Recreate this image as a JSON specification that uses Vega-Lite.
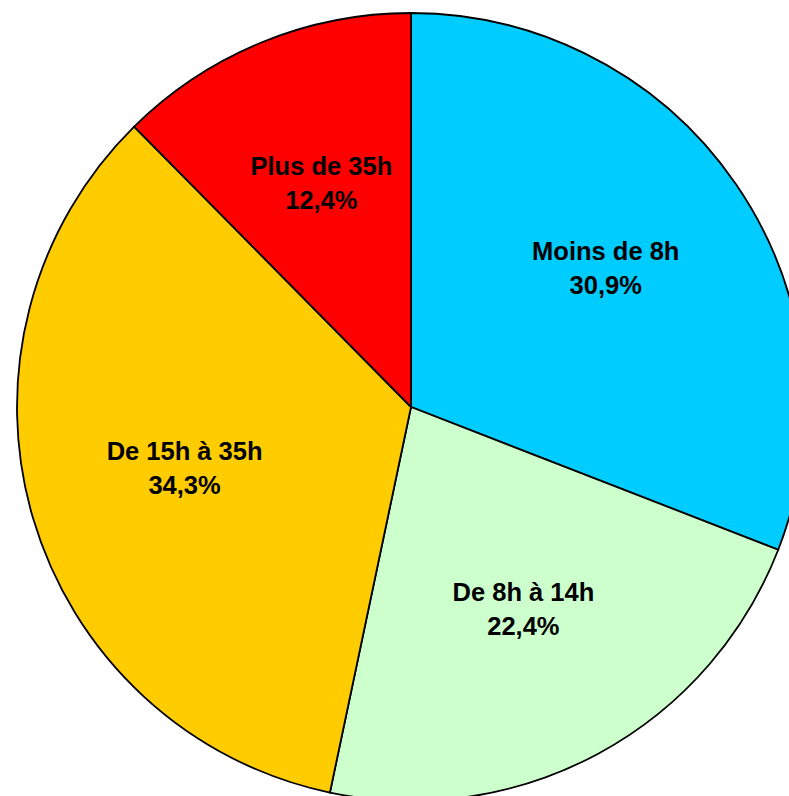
{
  "$schema": "https://vega.github.io/schema/vega-lite/v6.json",
  "width": 756,
  "height": 778,
  "autosize": {"type": "none"},
  "padding": {"left": 33, "top": 18, "right": 0, "bottom": 0},
  "background": "white",
  "view": {"stroke": null},
  "data": {
    "values": [
      {"ordre": 1, "categorie": "Moins de 8h", "part": 30.9},
      {"ordre": 2, "categorie": "De 8h à 14h", "part": 22.4},
      {"ordre": 3, "categorie": "De 15h à 35h", "part": 34.3},
      {"ordre": 4, "categorie": "Plus de 35h", "part": 12.4}
    ]
  },
  "transform": [
    {"calculate": "datum.categorie + '\\n' + replace(format(datum.part, '.1f'), '.', ',') + '%'", "as": "etiquette"}
  ],
  "encoding": {
    "theta": {"field": "part", "type": "quantitative", "stack": true},
    "order": {"field": "ordre", "type": "quantitative"}
  },
  "layer": [
    {
      "mark": {"type": "arc", "outerRadius": 394, "stroke": "black", "strokeWidth": 1.8},
      "encoding": {
        "color": {
          "field": "categorie",
          "type": "nominal",
          "sort": ["Moins de 8h", "De 8h à 14h", "De 15h à 35h", "Plus de 35h"],
          "scale": {
            "domain": ["Moins de 8h", "De 8h à 14h", "De 15h à 35h", "Plus de 35h"],
            "range": ["#00CCFF", "#CCFFCC", "#FFCC00", "#FF0000"]
          },
          "legend": null
        }
      }
    },
    {
      "mark": {
        "type": "text",
        "radius": 236,
        "font": "Liberation Sans",
        "fontWeight": "bold",
        "fontSize": 25.5,
        "lineHeight": 34,
        "lineBreak": "\n",
        "align": "center",
        "baseline": "middle",
        "dy": -22,
        "color": "black"
      },
      "encoding": {
        "text": {"field": "etiquette", "type": "nominal"}
      }
    }
  ]
}
